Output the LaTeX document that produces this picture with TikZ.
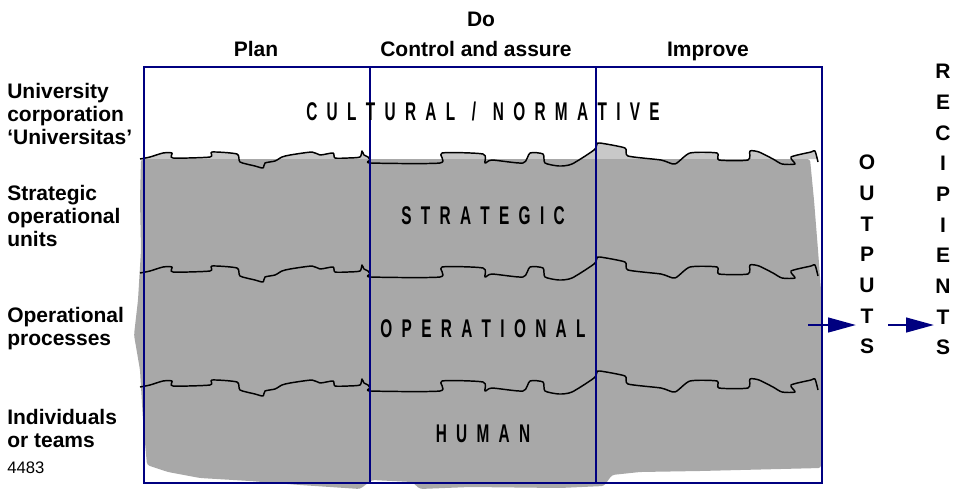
\documentclass[tikz,border=0pt]{standalone}
\usepackage{fontspec}
\setmainfont{Liberation Sans}
\newfontfamily\layerfont{Liberation Sans}[FakeStretch=0.6]
\usetikzlibrary{arrows.meta}
\definecolor{boxblue}{RGB}{0,0,128}
\definecolor{layergray}{RGB}{168,168,168}
\definecolor{rimgray}{RGB}{200,200,200}
\newlength\lgap
\setlength\lgap{7pt}
\def\spreadout#1{\ifx#1\relax\else#1\kern\lgap\expandafter\spreadout\fi}
\newcommand\layername[1]{\spreadout#1\relax\kern-\lgap}
\def\lsp{\kern-1.5pt}
\newcommand\crackpath{plot[smooth, tension=0.4] coordinates {
  (140,4) (150,2) (163,-2) (172,-2) (173,3) (210,2) (212,-3) (237,-1) (240,7)
  (255,11) (263,13) (265,8) (275,6) (282,2) (290,0) (312,-3) (320,0) (333,-2)
  (335,3) (348,3) (360,2) (362,-4) (364,0) (368,2) (370,5)
  (371,8) (440,8) (442,-2) (483,-1) (485,8) (492,5) (523,8) (530,-2) (543,-1)
  (545,8) (559,11) (572,9) (594,-5) (597,-11)
  (600,-12) (625,-7) (628,1) (661,5) (675,9) (690,-2) (717,-2) (719,5) (748,5)
  (750,-4) (759,-3) (773,4) (782,9) (795,9) (791,2) (811,-3) (815,-4) (818,7)}}
\tikzset{
  rowtext/.style={anchor=base west, align=left, inner sep=0pt,
    font=\bfseries\fontsize{15.75}{17.25}\selectfont},
  phasetext/.style={anchor=base, inner sep=0pt,
    font=\bfseries\fontsize{15.75}{17.25}\selectfont},
  layertext/.style={anchor=base, inner sep=0pt,
    font=\layerfont\bfseries\fontsize{19.2}{22}\selectfont},
  stacktext/.style={anchor=north, align=center, inner sep=0pt,
    font=\bfseries\fontsize{15.75}{23}\selectfont},
  boxline/.style={draw=boxblue, line width=0.9pt},
  crackline/.style={line width=1.1pt, line join=round},
  flowarrow/.style={draw=boxblue, line width=1.8pt,
    -{Triangle[length=21pt,width=11pt]}},
}
\begin{document}
\begin{tikzpicture}[x=0.75pt, y=-0.75pt]
\useasboundingbox (0,0) rectangle (958,490);

\coordinate (nw) at (144,67);
\coordinate (se) at (822,483);
\coordinate (cuta) at (370,67);
\coordinate (cutab) at (370,483);
\coordinate (cutb) at (596,67);
\coordinate (cutbb) at (596,483);

\begin{scope}[shift={(0,155)}]
\fill[rimgray] \crackpath -- (818,4) -- (140,4) -- cycle;
\end{scope}
\fill[layergray, rounded corners=2pt] (141,159) -- (810,159) -- (814,200)
  -- (818,250) -- (821,290) -- (823,340) -- (822,400) -- (821,468)
  -- (700,471) -- (640,472) -- (612,475) -- (604,486) -- (560,488)
  -- (470,487) -- (420,489) -- (412,482) -- (372,480) -- (360,489)
  -- (300,485) -- (250,481) -- (200,478) -- (168,472) -- (147,465)
  -- (143,420) -- (140,370) -- (134,335) -- (138,300) -- (141,250)
  -- (140,200) -- cycle;
\foreach \b in {155,269,383}{
  \begin{scope}[shift={(0,\b)}]
  \draw[crackline] \crackpath;
  \end{scope}
}
\draw[boxline] (nw) rectangle (se);
\draw[boxline] (cuta) -- (cutab);
\draw[boxline] (cutb) -- (cutbb);

\node[phasetext] (plan) at (256,56) {Plan};
\node[phasetext] (do) at (481,26) {Do};
\node[phasetext] (control) at (476,56) {Control and assure};
\node[phasetext] (improve) at (708,56) {Improve};

\node[rowtext] (univ) at (7,144) {University\\corporation\\`Universitas'};
\node[rowtext] (units) at (7,246) {Strategic\\operational\\units};
\node[rowtext] (procs) at (7,345) {Operational\\processes};
\node[rowtext] (teams) at (7,447) {Individuals\\or teams};
\node[anchor=base west, inner sep=0pt, font=\fontsize{12.5}{14}\selectfont]
  (code) at (7,473) {4483};

\node[layertext] (cultural) at (483,120) {\layername{CULTURAL\lsp/\lsp NORMATIVE}};
\node[layertext] (strategic) at (483,224) {\layername{STRATEGIC}};
\node[layertext] (operational) at (483,337) {\layername{OPERATIONAL}};
\node[layertext] (human) at (483,442) {\layername{HUMAN}};

\node[stacktext] (outputs) at (867,155) {O\\U\\T\\P\\U\\T\\S};
\node[stacktext] (recipients) at (943,64) {R\\E\\C\\I\\P\\I\\E\\N\\T\\S};

\coordinate (outfrom) at (808,325);
\coordinate (outto) at (856,325);
\coordinate (recfrom) at (888,325);
\coordinate (recto) at (934,325);
\draw[flowarrow] (outfrom) -- (outto);
\draw[flowarrow] (recfrom) -- (recto);
\end{tikzpicture}
\end{document}
